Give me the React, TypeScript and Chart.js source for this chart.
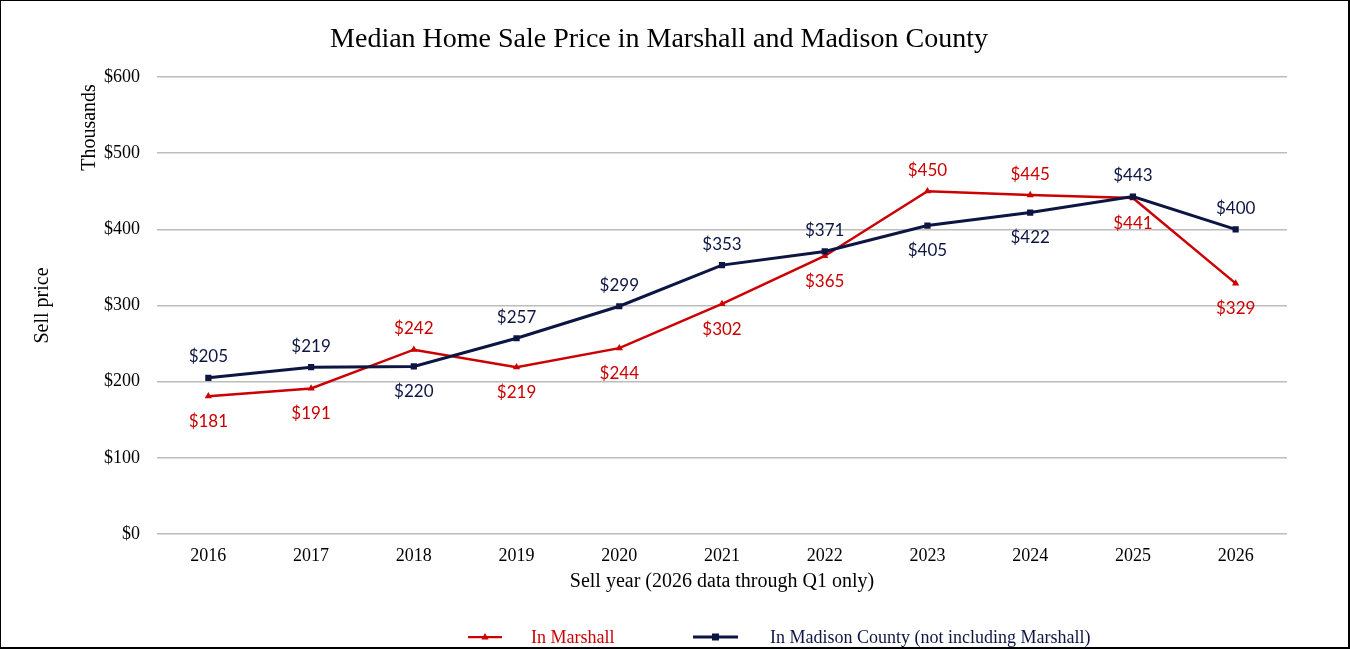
import { useEffect, useRef } from 'react';
import { Chart, registerables } from 'chart.js';

Chart.register(...registerables);

// Sale years on the x axis
const years = ['2016', '2017', '2018', '2019', '2020', '2021', '2022', '2023', '2024', '2025', '2026'];

// Median sale prices, in thousands of dollars
const marshallPrices = [181, 191, 242, 219, 244, 302, 365, 450, 445, 441, 329];
const madisonPrices = [205, 219, 220, 257, 299, 353, 371, 405, 422, 443, 400];

// Which side of each point its value label sits on
const marshallLabelSides = ['below', 'below', 'above', 'below', 'below', 'below', 'below', 'above', 'above', 'below', 'below'];
const madisonLabelSides = ['above', 'above', 'below', 'above', 'above', 'above', 'above', 'below', 'below', 'above', 'above'];

const titleText = 'Median Home Sale Price in Marshall and Madison County';
const unitsText = 'Thousands';
const yTitleText = 'Sell price';
const xTitleText = 'Sell year (2026 data through Q1 only)';
const marshallName = 'In Marshall';
const madisonName = 'In Madison County (not including Marshall)';

const RED = '#cc0000';
const NAVY = '#0d1543';
const SERIF = '"Liberation Serif", "Times New Roman", serif';
const LABEL_FONT = 'Lato, "Open Sans", sans-serif';

const valueLabels = {
  id: 'valueLabels',
  afterDatasetsDraw(chart: any) {
    const ctx = chart.ctx;
    ctx.save();
    ctx.font = `17px ${LABEL_FONT}`;
    ctx.textAlign = 'center';
    ctx.textBaseline = 'alphabetic';
    chart.data.datasets.forEach((ds: any, i: number) => {
      const meta = chart.getDatasetMeta(i);
      ctx.fillStyle = ds.borderColor;
      meta.data.forEach((pt: any, j: number) => {
        const above = ds.labelSides[j] === 'above';
        const cy = pt.y + (above ? -21.5 : 24.5);
        ctx.fillText('$' + ds.data[j], pt.x, cy + 6.1);
      });
    });
    ctx.restore();
  },
};

const decorations = {
  id: 'decorations',
  afterDraw(chart: any) {
    const ctx = chart.ctx;
    ctx.save();
    // Title
    ctx.fillStyle = '#000';
    ctx.font = `28px ${SERIF}`;
    ctx.textAlign = 'center';
    ctx.textBaseline = 'alphabetic';
    ctx.fillText(titleText, 659, 47);

    // Display-units label beside the value axis
    ctx.save();
    ctx.translate(95, 127.5);
    ctx.rotate(-Math.PI / 2);
    ctx.font = `20px ${SERIF}`;
    ctx.fillText(unitsText, 0, 0);
    ctx.restore();

    // Legend
    const ly = 637;
    const drawEntry = (x1: number, x2: number, color: string, width: number, marker: string, textX: number, text: string) => {
      ctx.strokeStyle = color;
      ctx.lineWidth = width;
      ctx.beginPath();
      ctx.moveTo(x1, ly);
      ctx.lineTo(x2, ly);
      ctx.stroke();
      ctx.fillStyle = color;
      const mx = (x1 + x2) / 2;
      ctx.beginPath();
      if (marker === 'rect') {
        ctx.rect(mx - 3.5, ly - 3.5, 7, 7);
      } else {
        ctx.moveTo(mx, ly - 4);
        ctx.lineTo(mx + 3.6, ly + 2.5);
        ctx.lineTo(mx - 3.6, ly + 2.5);
        ctx.closePath();
      }
      ctx.fill();
      ctx.font = `18px ${SERIF}`;
      ctx.textAlign = 'left';
      ctx.fillText(text, textX, 643);
    };
    drawEntry(468, 502, RED, 2.25, 'triangle', 531, marshallName);
    drawEntry(693, 738, NAVY, 3, 'rect', 770, madisonName);
    ctx.restore();
  },
};

export default function App() {
  const canvasRef = useRef<HTMLCanvasElement | null>(null);

  useEffect(() => {
    if (!canvasRef.current) return;
    const chart = new Chart(canvasRef.current, {
      type: 'line',
      data: {
        labels: years,
        datasets: [
          {
            label: marshallName,
            data: marshallPrices,
            borderColor: RED,
            backgroundColor: RED,
            borderWidth: 2.5,
            pointStyle: 'triangle',
            pointRadius: 4.2,
            pointBorderWidth: 0,
            pointBackgroundColor: RED,
            tension: 0,
            order: 1,
            labelSides: marshallLabelSides,
          } as any,
          {
            label: madisonName,
            data: madisonPrices,
            borderColor: NAVY,
            backgroundColor: NAVY,
            borderWidth: 3,
            pointStyle: 'rect',
            pointRadius: 4.4,
            pointBorderWidth: 0,
            pointBackgroundColor: NAVY,
            tension: 0,
            order: 0,
            labelSides: madisonLabelSides,
          } as any,
        ],
      },
      options: {
        responsive: false,
        devicePixelRatio: 1,
        animation: false,
        layout: { padding: { left: 0, right: 63, top: 77, bottom: 45 } },
        plugins: {
          legend: { display: false },
          title: { display: false },
          tooltip: { enabled: false },
        },
        scales: {
          x: {
            type: 'category',
            offset: true,
            grid: { display: false, drawTicks: false },
            border: { display: false },
            ticks: {
              color: '#000',
              font: { family: SERIF, size: 18 },
              padding: 11,
              maxRotation: 0,
            },
            title: {
              display: true,
              text: xTitleText,
              color: '#000',
              font: { family: SERIF, size: 20 },
              padding: { top: 0, bottom: 10 },
            },
            afterFit: (scale: any) => {
              scale.height = 70;
            },
          },
          y: {
            min: 0,
            max: 600,
            grid: { color: '#bcbcbc', lineWidth: 1.5, drawTicks: false },
            border: { display: false },
            ticks: {
              stepSize: 100,
              color: '#000',
              font: { family: SERIF, size: 18 },
              padding: 17,
              callback: (v: any) => '$' + v,
            },
            title: {
              display: true,
              text: yTitleText,
              color: '#000',
              font: { family: SERIF, size: 20 },
              padding: { top: 31, bottom: 0 },
            },
            afterFit: (scale: any) => {
              scale.width = 157;
            },
          },
        },
      },
      plugins: [valueLabels, decorations],
    });
    return () => chart.destroy();
  }, []);

  return (
    <div style={{ position: 'absolute', left: 0, top: 0, width: 1350, height: 649, background: '#fff' }}>
      <canvas ref={canvasRef} width={1350} height={649} style={{ display: 'block' }} />
      <div
        style={{
          position: 'absolute',
          left: 0,
          top: 0,
          width: 1350,
          height: 649,
          boxSizing: 'border-box',
          borderLeft: '1px solid #000',
          borderTop: '1px solid #000',
          borderRight: '2px solid #000',
          borderBottom: '2px solid #000',
          pointerEvents: 'none',
        }}
      />
    </div>
  );
}
